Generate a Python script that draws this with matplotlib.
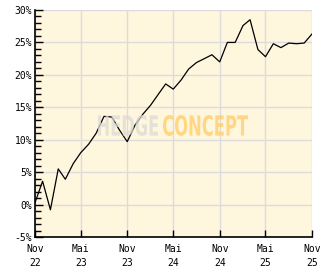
import matplotlib
matplotlib.use("Agg")
import matplotlib.pyplot as plt
import pandas as pd
from matplotlib.textpath import TextPath
from matplotlib.patches import PathPatch
from matplotlib.font_manager import FontProperties
from matplotlib.transforms import Affine2D, IdentityTransform

# monthly performance in %, Nov 2022 .. Nov 2025
perf = [0.3, 3.6, -0.8, 5.5, 3.9, 6.3, 8.0, 9.3, 11.0, 13.6, 13.5, 11.5, 9.7,
        12.2, 13.9, 15.3, 16.9, 18.6, 17.8, 19.2, 20.9, 21.9, 22.5, 23.1, 22.0,
        25.0, 25.0, 27.6, 28.5, 23.9, 22.8, 24.8, 24.2, 24.9, 24.8, 24.9, 26.3]
dates = pd.date_range("2022-11-01", periods=len(perf), freq="MS")
tick_dates = dates[::6]
tick_labels = ["Nov\n22", "Mai\n23", "Nov\n23", "Mai\n24", "Nov\n24", "Mai\n25", "Nov\n25"]
y_ticks = [-5, 0, 5, 10, 15, 20, 25, 30]

fig = plt.figure(figsize=(3.32, 2.69), dpi=100)
ax = fig.add_axes([35 / 332, 32 / 269, 277 / 332, 227 / 269])
ax.set_facecolor("#fff6de")

ax.plot(dates, perf, color="black", lw=0.9, zorder=2)

ax.set_xlim(dates[0], dates[-1])
ax.set_ylim(-5, 30)
ax.set_xticks(tick_dates)
ax.set_xticklabels(tick_labels, family="DejaVu Sans Mono", fontsize=7, linespacing=1.45)
ax.set_yticks(y_ticks)
ax.set_yticklabels([f"{v}%" for v in y_ticks], family="DejaVu Sans Mono", fontsize=7)
ax.set_yticks(range(-5, 31), minor=True)
ax.tick_params(axis="x", direction="in", length=5, width=1, pad=5, color="black")
ax.tick_params(axis="y", which="major", direction="in", length=6, width=1, pad=2)
ax.tick_params(axis="y", which="minor", direction="in", length=4, width=1)

ax.grid(True, which="major", color="#dcdcdc", lw=1, zorder=0)
ax.set_axisbelow(True)
for s in ["top", "right"]:
    ax.spines[s].set_visible(False)
for s in ["left", "bottom"]:
    ax.spines[s].set_linewidth(1.2)
    ax.spines[s].set_zorder(5)

# watermark, squeezed into its box (pixel coords, origin bottom-left)
fp = FontProperties(family="DejaVu Sans", weight="bold")


def watermark(txt, x0, x1, y0, y1, color, alpha):
    tp = TextPath((0, 0), txt, size=10, prop=fp)
    ext = tp.get_extents()
    sx = (x1 - x0) / ext.width
    sy = (y1 - y0) / ext.height
    tr = Affine2D().translate(-ext.x0, -ext.y0).scale(sx, sy).translate(x0, y0)
    patch = PathPatch(tr.transform_path(tp), facecolor=color, edgecolor="none",
                      alpha=alpha, transform=IdentityTransform(), zorder=3)
    patch.set_clip_on(False)
    ax.add_artist(patch)


watermark("HEDGE", 98, 158, 133, 154, "#dcdad4", 0.75)
watermark("CONCEPT", 163, 248, 133, 154, "#ffcf6e", 0.8)

fig.savefig("out.png", dpi=100)
